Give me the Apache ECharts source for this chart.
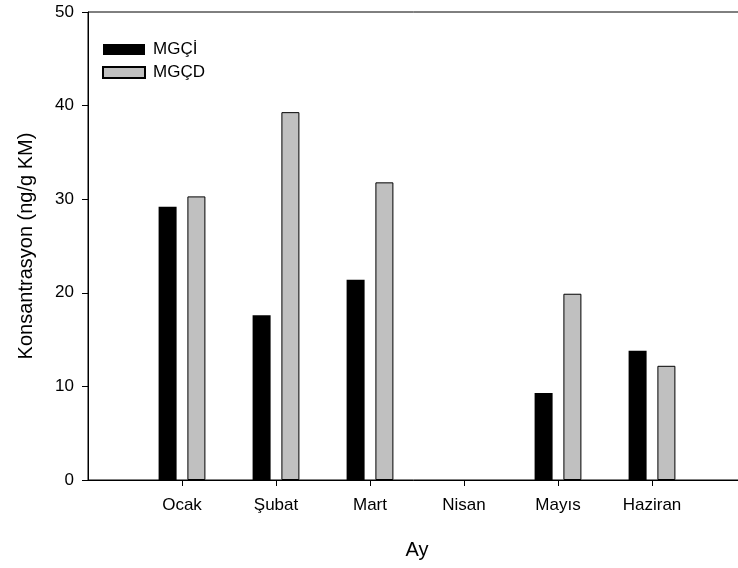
<!DOCTYPE html>
<html>
<head>
<meta charset="utf-8">
<script src="https://cdn.jsdelivr.net/npm/echarts@6/dist/echarts.min.js"></script>
<style>
  html, body { margin: 0; padding: 0; background: #fff; }
  #chart { width: 738px; height: 568px; }
</style>
</head>
<body>
<div id="chart"></div>
<script>
// Monthly concentrations (ng/g KM) for the two sample groups
const months = ['Ocak', 'Şubat', 'Mart', 'Nisan', 'Mayıs', 'Haziran'];
const mgciValues = [29.2, 17.6, 21.4, null, 9.3, 13.8];
const mgcdValues = [30.3, 39.3, 31.8, null, 19.9, 12.2];
const yTicks = [0, 10, 20, 30, 40, 50];

// The x axis runs one empty slot beyond each end, so the months sit on ticks 1..6
const xCategories = [''].concat(months, ['']);
const pad = arr => [null].concat(arr, [null]);

const FONT = 'Liberation Sans, Arial, sans-serif';

const chart = echarts.init(document.getElementById('chart'), null, { renderer: 'canvas' });
chart.setOption({
  animation: false,
  backgroundColor: '#fff',
  textStyle: { fontFamily: FONT, color: '#000' },
  grid: {
    left: 88, top: 12, width: 658, height: 468,
    outerBoundsMode: 'none',
    show: true, borderColor: '#000', borderWidth: 1, backgroundColor: 'transparent'
  },
  legend: {
    orient: 'vertical', left: 102, top: 41, padding: 0,
    icon: 'rect',
    itemWidth: 42, itemHeight: 11, itemGap: 6,
    textStyle: { fontFamily: FONT, fontSize: 17, lineHeight: 13, color: '#000', padding: [0, 0, 0, 3] },
    data: ['MGÇİ', 'MGÇD']
  },
  xAxis: {
    type: 'category',
    data: xCategories,
    boundaryGap: false,
    name: 'Ay', nameLocation: 'middle', nameGap: 60,
    nameTextStyle: { fontFamily: FONT, fontSize: 20, color: '#000' },
    axisLine: { lineStyle: { color: '#000', width: 1 } },
    axisTick: {
      inside: false, length: 6, lineStyle: { color: '#000' },
      interval: (i, v) => v !== ''
    },
    axisLabel: { fontFamily: FONT, fontSize: 17, color: '#000', margin: 17, interval: 0 },
    splitLine: { show: false }
  },
  yAxis: {
    type: 'value', min: yTicks[0], max: yTicks[yTicks.length - 1], interval: 10,
    name: 'Konsantrasyon (ng/g KM)', nameLocation: 'middle', nameGap: 52, nameRotate: 90,
    nameTextStyle: { fontFamily: FONT, fontSize: 20, color: '#000' },
    axisLine: { show: true, lineStyle: { color: '#000', width: 1 } },
    axisTick: { show: true, inside: false, length: 6, lineStyle: { color: '#000' } },
    axisLabel: { fontFamily: FONT, fontSize: 17, color: '#000', margin: 14 },
    splitLine: { show: false }
  },
  series: [
    {
      name: 'MGÇİ', type: 'bar', data: pad(mgciValues),
      barWidth: 18, barGap: '60%',
      itemStyle: { color: '#000', borderColor: '#000', borderWidth: 0 }
    },
    {
      name: 'MGÇD', type: 'bar', data: pad(mgcdValues),
      barWidth: 18, barGap: '60%',
      itemStyle: { color: '#c0c0c0', borderColor: '#000', borderWidth: 1 }
    }
  ]
});
</script>
</body>
</html>
